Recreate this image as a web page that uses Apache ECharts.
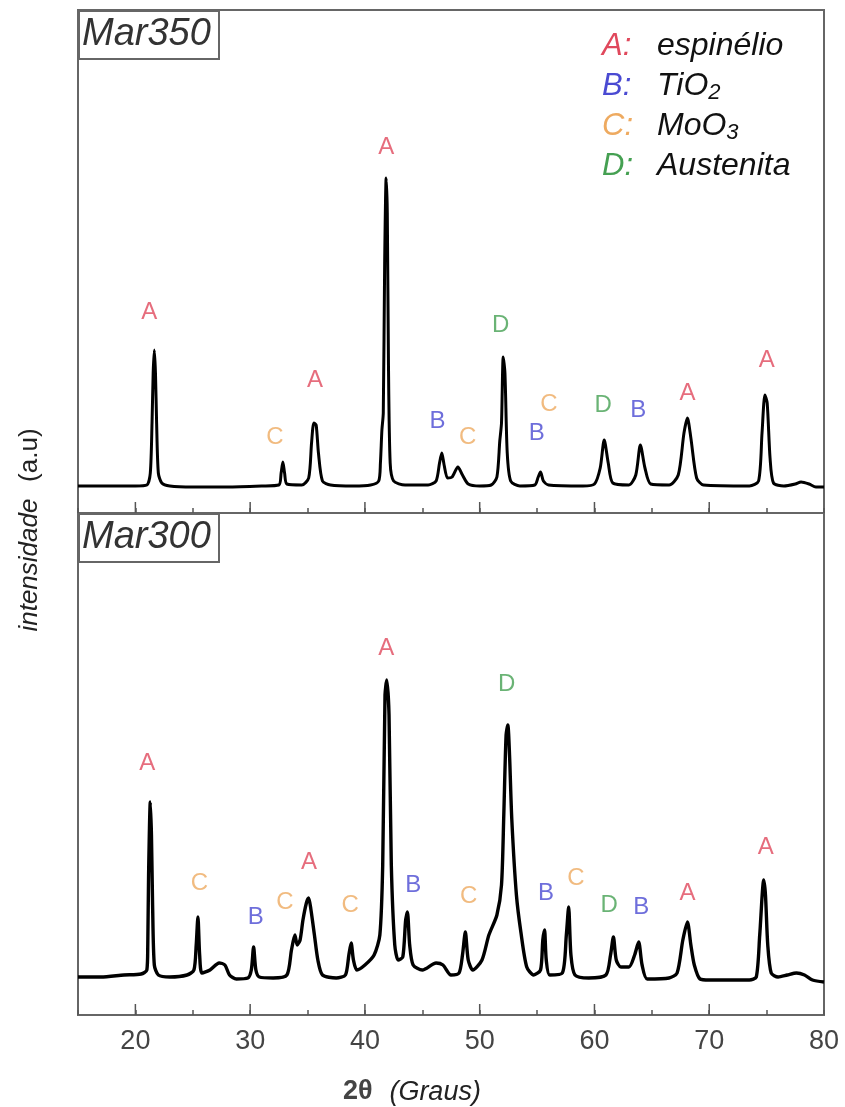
<!DOCTYPE html>
<html><head><meta charset="utf-8">
<script src="https://cdn.jsdelivr.net/npm/echarts@6/dist/echarts.min.js"></script>
<style>html,body{margin:0;padding:0;background:#fff}#c{width:845px;height:1107px}</style>
</head><body><div id="c"></div>
<script>
// ---- data (2θ in degrees, intensity in arbitrary units) ----
const mar350 = [
[15,27],[18,27],[20,27],[21.0,28],[21.3,40],[21.45,90],[21.55,140],[21.65,163],[21.75,140],[21.85,90],[22.0,40],[22.3,30],[23,27],
[25,26],[28,26],[31,27],[32.5,28],[32.7,40],[32.85,51],[33.0,40],[33.2,29],[34.5,28],[35.1,35],[35.35,70],[35.55,90],[35.75,88],[35.95,60],[36.3,32],[37,28],
[39,27],[40.5,28],[41.2,32],[41.35,50],[41.48,83],[41.6,100],[41.72,250],[41.85,335],[41.95,300],[42.05,150],[42.2,50],[42.5,32],[43.5,28],
[45.5,28],[46.2,32],[46.5,50],[46.7,60],[46.9,48],[47.2,35],[47.6,36],[48.1,46],[48.5,38],[49,29],[50,27],[51,28],[51.5,36],[51.75,72],[51.9,90],[52.05,156],[52.2,140],[52.4,60],[52.7,32],[53.5,27],
[54.8,28],[55.1,36],[55.3,41],[55.55,32],[56,28],[59,27],[60,29],[60.5,45],[60.85,73],[61.2,50],[61.6,30],[63,28],[63.6,38],[64.0,68],[64.4,45],[64.9,29],
[66.5,28],[67.3,38],[67.8,80],[68.1,95],[68.4,75],[68.9,35],[69.5,28],[73.5,27],[74.3,32],[74.6,80],[74.85,118],[75.05,110],[75.3,55],[75.6,30],[76.5,27],[77.5,29],[78.0,31],[78.7,29],[79.3,26],[80,26]
];
const mar300 = [
[15,38],[17,38],[19,40],[20.5,41],[21.0,45],[21.08,70],[21.15,140],[21.3,213],[21.4,180],[21.5,110],[21.65,50],[22,40],[23,38],[24.5,40],[25.1,45],[25.3,70],[25.45,98],[25.6,60],[25.8,42],
[26.5,45],[27.3,52],[27.8,50],[28.2,40],[28.8,36],[29.8,37],[30.1,45],[30.3,68],[30.5,45],[30.8,38],[32,37],[33.2,40],[33.6,65],[33.9,80],[34.1,70],[34.35,75],[34.6,95],[34.9,112],[35.1,117],[35.3,105],[35.6,80],[35.9,55],[36.3,40],[37.5,37],
[38.3,40],[38.6,60],[38.8,72],[39.0,55],[39.3,45],[40,50],[40.8,60],[41.3,80],[41.55,150],[41.75,320],[41.9,335],[42.1,300],[42.3,150],[42.6,70],[42.9,55],[43.3,58],[43.55,95],[43.7,103],[43.9,70],[44.2,50],
[45,45],[46.2,52],[46.8,50],[47.5,40],[48.2,42],[48.5,60],[48.75,83],[49.0,55],[49.4,45],[50.2,55],[50.8,80],[51.5,100],[51.9,130],[52.1,200],[52.3,280],[52.45,290],[52.6,260],[52.8,195],[53.2,120],[53.6,82],[54.1,48],[54.7,40],
[55.3,45],[55.5,75],[55.65,85],[55.8,55],[56.1,40],[57.2,42],[57.55,80],[57.75,108],[57.95,60],[58.3,40],[59.5,37],[61,40],[61.4,60],[61.65,78],[61.9,55],[62.3,48],[63.0,48],[63.5,60],[63.85,73],[64.15,50],[64.6,36],
[66.5,37],[67.2,42],[67.7,75],[68.1,93],[68.4,70],[68.7,50],[69.2,36],[70,35],[73.5,35],[74.1,38],[74.4,80],[74.75,135],[74.9,120],[75.1,70],[75.4,42],[76,38],[76.8,40],[77.6,42],[78.3,40],[79,35],[80,33]
];
const topLabels = [
[21.2,201,'A'],[32.15,76,'C'],[35.65,133,'A'],[41.86,366,'A'],[46.32,92,'B'],[48.95,76,'C'],[51.83,188,'D'],
[54.98,80,'B'],[56.03,109,'C'],[60.76,108,'D'],[63.82,103,'B'],[68.11,120,'A'],[75.02,153,'A']
];
const bottomLabels = [
[21.04,252,'A'],[25.59,132,'C'],[30.49,98,'B'],[33.02,113,'C'],[35.12,153,'A'],[38.71,110,'C'],[41.86,367,'A'],
[44.22,130,'B'],[49.03,119,'C'],[52.36,331,'D'],[55.77,122,'B'],[58.39,137,'C'],[61.28,110,'D'],[64.08,108,'B'],[68.11,122,'A'],[74.93,168,'A']
];
const majorTicks = [20,30,40,50,60,70];
const phaseColors = {A:'#e0485c', B:'#4a4ad2', C:'#eeaa60', D:'#45a052'};
const legendItems = [['A','espinélio',''],['B','TiO','2'],['C','MoO','3'],['D','Austenita','']];
const panelNames = ['Mar350','Mar300'];

// ---- chart ----
const chart = echarts.init(document.getElementById('c'), null, {renderer:'canvas'});
const GL = 78, GW = 746;
const grids = [
  {left:GL, width:GW, top:10, height:503, show:true, borderColor:'#666', borderWidth:2},
  {left:GL, width:GW, top:513, height:502, show:true, borderColor:'#666', borderWidth:2}
];
function xAx(i, labels){
  return {type:'value', gridIndex:i, min:15, max:80, interval:5,
    axisLine:{show:true, lineStyle:{color:'#666', width:2}},
    axisTick:{show:true, inside:true, length:5, lineStyle:{color:'#555', width:1.5}},
    splitLine:{show:false},
    axisLabel:{show:labels, margin:13, fontFamily:'Liberation Sans', fontSize:27, color:'#444',
      formatter:v => (v % 10 === 0 && v !== 15) ? String(v) : ''}
  };
}
function yAx(i){
  return {type:'value', gridIndex:i, min:0, max:i===0?503:502,
    axisLine:{show:true, lineStyle:{color:'#666', width:2}}, axisTick:{show:false}, axisLabel:{show:false}, splitLine:{show:false}};
}
function labelSeries(i, arr){
  return {type:'scatter', xAxisIndex:i, yAxisIndex:i, symbolSize:0, silent:true,
    data: arr.map(d => ({value:[d[0], d[1]], name:d[2],
      label:{show:true, position:'inside', formatter:d[2], color:phaseColors[d[2]],
        fontFamily:'Liberation Sans', fontSize:24}}))};
}
function tickSeries(i){
  return {type:'custom', xAxisIndex:i, yAxisIndex:i, silent:true, clip:false,
    data: majorTicks.map(t => [t, 0]),
    renderItem:(params, api) => {
      const p = api.coord([api.value(0), 0]);
      return {type:'line', shape:{x1:p[0], y1:p[1], x2:p[0], y2:p[1]-11}, style:{stroke:'#555', lineWidth:1.5}};
    }};
}
const graphic = [];
// panel name boxes
[10, 513].forEach((top, k) => {
  graphic.push({type:'rect', left:GL, top:top, shape:{width:140, height:48}, style:{fill:'#fff', stroke:'#666', lineWidth:2}, z:10});
  graphic.push({type:'text', left:GL+4, top:top+5, style:{text:panelNames[k], font:'italic 38px "Liberation Sans"', fill:'#333'}, z:11});
});
// phase legend
legendItems.forEach((it, k) => {
  const y = 48 + k*40;
  graphic.push({type:'text', left:602, top:y-17, style:{text:it[0]+':', font:'italic 31px "Liberation Sans"', fill:phaseColors[it[0]]}, z:11});
  graphic.push({type:'text', left:657, top:y-18, style:{
    text:'{t|'+it[1]+'}' + (it[2] ? '{s|'+it[2]+'}' : ''),
    rich:{t:{font:'italic 32px "Liberation Sans"', fill:'#111', lineHeight:36},
          s:{font:'italic 22px "Liberation Sans"', fill:'#111', lineHeight:20, verticalAlign:'bottom'}}}, z:11});
});
// axis titles
graphic.push({type:'text', x:30, y:530, rotation:Math.PI/2, style:{
  text:'{i|intensidade}     {r|(a.u)}', align:'center', verticalAlign:'middle',
  rich:{i:{font:'italic 26px "Liberation Sans"', fill:'#222'}, r:{font:'26px "Liberation Sans"', fill:'#222'}}}});
graphic.push({type:'text', x:412, y:1092, style:{
  text:'{b|2θ}     {g|(Graus)}', align:'center', verticalAlign:'middle',
  rich:{b:{font:'bold 27px "Liberation Sans"', fill:'#444'}, g:{font:'italic 27px "Liberation Sans"', fill:'#222'}}}});

chart.setOption({
  animation:false,
  backgroundColor:'#fff',
  grid:grids,
  xAxis:[xAx(0,false), xAx(1,true)],
  yAxis:[yAx(0), yAx(1)],
  graphic:graphic,
  series:[
    {type:'line', xAxisIndex:0, yAxisIndex:0, data:mar350, showSymbol:false, smooth:0.25, lineStyle:{color:'#000', width:3}, silent:true},
    {type:'line', xAxisIndex:1, yAxisIndex:1, data:mar300, showSymbol:false, smooth:0.25, lineStyle:{color:'#000', width:3.4}, silent:true},
    labelSeries(0, topLabels), labelSeries(1, bottomLabels),
    tickSeries(0), tickSeries(1)
  ]
});
</script></body></html>
